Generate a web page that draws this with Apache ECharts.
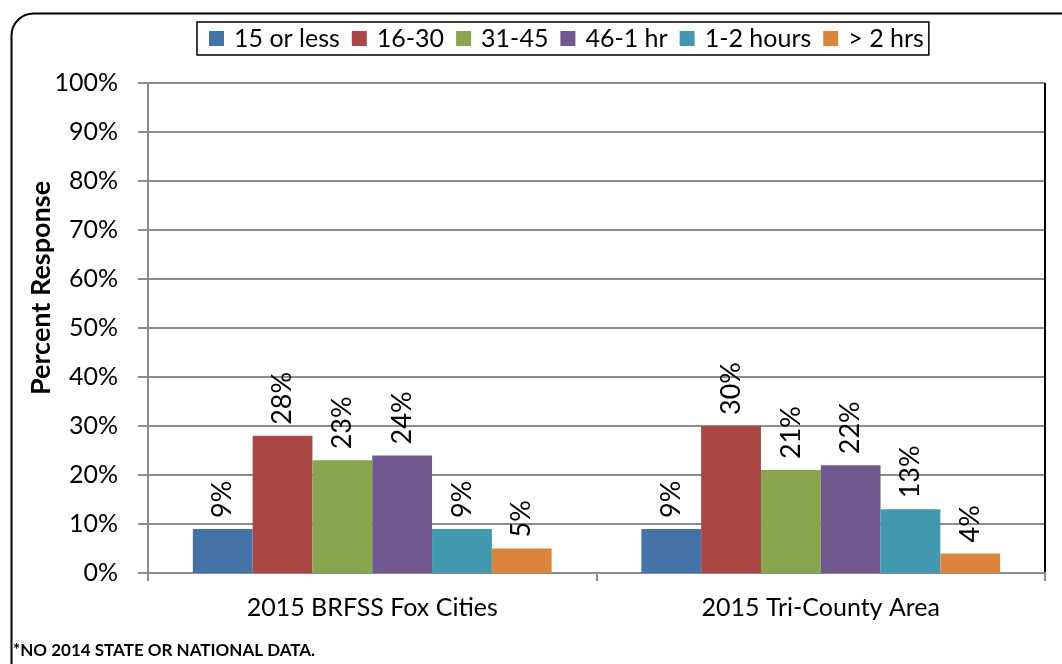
<!DOCTYPE html>
<html lang="en">
<head>
    <meta charset="UTF-8">
    <title>Time Spent</title>
    <style>
        body { margin: 0; background: #fff; }
        #chartContainer { width: 1062px; height: 664px; }
    </style>
    <script src="https://cdn.jsdelivr.net/npm/echarts@6/dist/echarts.min.js"></script>
</head>
<body>
    <div id="chartContainer"></div>
    <script>
        const categories = ['2015 BRFSS Fox Cities', '2015 Tri-County Area'];
        const seriesNames = ['15 or less', '16-30', '31-45', '46-1 hr', '1-2 hours', '> 2 hrs'];
        const seriesValues = [
            [9, 9],
            [28, 30],
            [23, 21],
            [24, 22],
            [9, 13],
            [5, 4]
        ];
        const colors = ['#4572A7', '#AA4643', '#89A54E', '#71588F', '#4198AF', '#DB843D'];
        const yTicks = [0, 10, 20, 30, 40, 50, 60, 70, 80, 90, 100];

        const font = 'Lato, "Open Sans", sans-serif';

        var chartDom = document.getElementById('chartContainer');
        var myChart = echarts.init(chartDom);

        const series = seriesNames.map((name, i) => ({
            name: name,
            type: 'bar',
            data: seriesValues[i],
            barGap: '0%',
            barCategoryGap: '20%',
            itemStyle: { color: colors[i] },
            label: {
                show: true,
                position: 'top',
                rotate: 90,
                align: 'left',
                verticalAlign: 'middle',
                distance: 11,
                formatter: '{c}%',
                fontSize: 27,
                fontFamily: font,
                color: '#000'
            }
        }));

        const option = {
            animation: false,
            color: colors,
            legend: {
                data: seriesNames,
                top: 22,
                left: 197,
                itemWidth: 15,
                itemHeight: 15,
                itemGap: 12,
                icon: 'rect',
                borderColor: '#000',
                borderWidth: 1.5,
                padding: [4, 5, 4, 12],
                textStyle: { fontSize: 25, fontFamily: font, color: '#000', padding: [0, 0, 0, 5] }
            },
            grid: {
                left: 148,
                right: 17,
                top: 83,
                bottom: 91,
                containLabel: false
            },
            xAxis: {
                type: 'category',
                data: categories,
                axisLine: { lineStyle: { color: '#8c8c8c', width: 2 } },
                axisTick: { show: true, length: 8, lineStyle: { color: '#8c8c8c', width: 2 } },
                axisLabel: { fontSize: 25, fontFamily: font, color: '#000', margin: 22 },
                splitLine: {
                    show: true,
                    interval: (index) => index === 1,
                    lineStyle: { color: '#000', width: 2 }
                }
            },
            yAxis: {
                type: 'value',
                min: yTicks[0],
                max: yTicks[yTicks.length - 1],
                interval: 10,
                name: 'Percent Response',
                nameLocation: 'middle',
                nameMoveOverlap: false,
                nameGap: 93,
                nameTextStyle: {
                    fontSize: 27, fontWeight: 'bold', fontFamily: font, color: '#000',
                    padding: [0, 0, 0, 80]
                },
                axisLine: { show: true, lineStyle: { color: '#8c8c8c', width: 2 } },
                axisTick: { show: true, length: 10, lineStyle: { color: '#8c8c8c', width: 2 } },
                axisLabel: { formatter: '{value}%', fontSize: 25, fontFamily: font, color: '#000', margin: 30 },
                splitLine: { lineStyle: { color: '#8c8c8c', width: 2 } }
            },
            graphic: [
                {
                    type: 'rect',
                    left: 9,
                    top: 11,
                    shape: { width: 1080, height: 690, r: 22 },
                    style: { fill: 'none', stroke: '#000', lineWidth: 2 },
                    silent: true
                },
                {
                    type: 'text',
                    left: 13,
                    top: 642,
                    style: {
                        text: '*NO 2014 STATE OR NATIONAL DATA.',
                        font: 'bold 17px ' + font,
                        fill: '#000'
                    }
                }
            ],
            series: series
        };

        myChart.setOption(option);
    </script>
</body>
</html>
